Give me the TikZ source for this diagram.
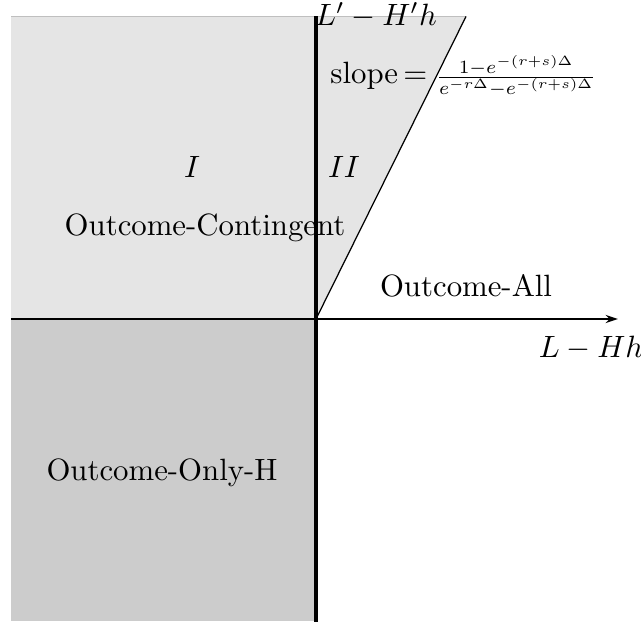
\documentclass[tikz,border=0pt]{standalone}
\usepackage{graphicx}
\usetikzlibrary{arrows.meta}
\begin{document}
\begin{tikzpicture}[x=0.3247pt,y=-0.3247pt,
  lbl/.style={anchor=base,inner sep=0pt},
  axisx/.style={line width=0.6pt,-{Stealth[length=4pt,width=2.6pt]}},
  axisy/.style={line width=1pt},
  boundary/.style={line width=0.4pt}]
\useasboundingbox (0,0) rectangle (641,622);
% regions
\fill[gray!20] (11,16.5) -- (466,16.5) -- (316,319) -- (11,319) -- cycle;
\fill[gray!40] (11,319) rectangle (316,621);
\draw[gray!50,line width=0.5pt] (11,16.5) -- (466,16.5);
% coordinates
\coordinate (O) at (316,319);
\coordinate (T) at (466,16.5);
\coordinate (xs) at (11,319);
\coordinate (xe) at (618,319);
\coordinate (ys) at (316,622);
\coordinate (ye) at (316,16.5);
% lines
\draw[boundary] (O) -- (T);
\draw[axisx] (xs) -- (xe);
\draw[axisy] (ys) -- (ye);
% labels
\node[lbl] (ylab) at (376,26) {$L'-H'h$};
\node[lbl] (xlab) at (591,358) {$L-Hh$};
\node[lbl] (slope) at (463.5,84) {slope\,$=\;$\scalebox{0.87}{$\frac{1-e^{-(r+s)\Delta}}{e^{-r\Delta}-e^{-(r+s)\Delta}}$}};
\node[lbl] (r1) at (192,178) {$I$};
\node[lbl] (r2) at (344,178) {$II$};
\node[lbl] (oc) at (205,236) {Outcome-Contingent};
\node[lbl] (oa) at (466,297) {Outcome-All};
\node[lbl] (oh) at (162,481) {Outcome-Only-H};
\end{tikzpicture}
\end{document}
